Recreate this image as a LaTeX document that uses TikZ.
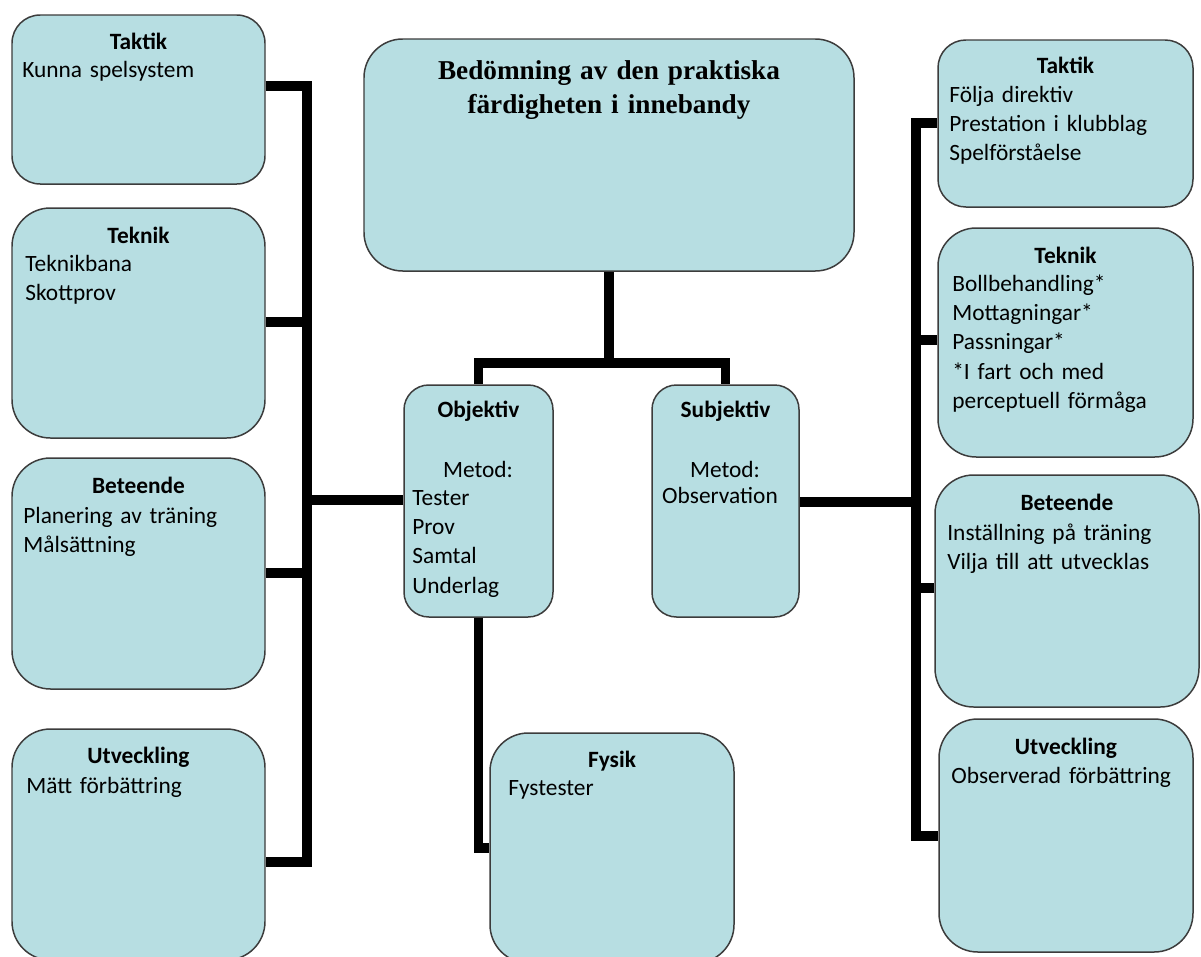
\documentclass[tikz,border=0pt]{standalone}
\usepackage{fontspec}
\setmainfont{Carlito}[WordSpace=0.85]
\newfontfamily\headfont{Liberation Serif}
\usetikzlibrary{calc}
\definecolor{boxfill}{RGB}{183,222,226}
\definecolor{boxline}{RGB}{60,60,60}

\tikzset{
  panel/.style={draw=boxline, line width=0.85pt, fill=boxfill, inner sep=0pt},
  conn/.style={line width=5.2pt, line join=miter, line cap=butt},
  head/.style={inner sep=0pt, anchor=base, font=\fontsize{13.3}{16.7}\selectfont\bfseries},
  body/.style={inner sep=0pt, anchor=base west, align=left, text width=5.2cm,
               font=\fontsize{13.3}{16.7}\selectfont},
  mid/.style={inner sep=0pt, anchor=base, font=\fontsize{13.3}{16.7}\selectfont},
}

% rounded panel: name, left, top, width, height (in px units)
\newcommand\panelbox[5]{%
  \pgfmathsetmacro\rr{0.1667*min(#4,#5)*0.02}%
  \node[panel, minimum width=#4*0.02cm, minimum height=#5*0.02cm,
        rounded corners=\rr cm] (#1) at ({#2+#4/2},{#3+#5/2}) {};}

\begin{document}
\begin{tikzpicture}[x=0.02cm, y=-0.02cm]
\useasboundingbox (0,0) rectangle (1201,957);
\clip (0,0) rectangle (1201,957);
\fill[white] (0,0) rectangle (1201,957);

% left column
\panelbox{lta}{12}{15}{253}{169}
\panelbox{lte}{12}{208}{253}{230}
\panelbox{lbe}{12}{458}{253}{231}
\panelbox{lut}{12}{729}{253}{231}
% centre
\panelbox{top}{364}{39}{490}{232}
\panelbox{obj}{404}{385}{149}{232}
\panelbox{sub}{652}{385}{147}{232}
\panelbox{fys}{490}{733}{244}{230}
% right column
\panelbox{rta}{938}{40}{255}{167}
\panelbox{rte}{938}{228}{255}{229}
\panelbox{rbe}{935}{475}{264}{232}
\panelbox{rut}{939}{719}{254}{233}

% bus junctions
\coordinate (lbA) at (307,86);
\coordinate (lbB) at (307,322);
\coordinate (lbC) at (307,573);
\coordinate (lbD) at (307,862);
\coordinate (lbM) at (307,500);
\coordinate (rbA) at (916,123);
\coordinate (rbB) at (916,340);
\coordinate (rbC) at (916,588);
\coordinate (rbD) at (916,836);
\coordinate (rbM) at (916,502);
\coordinate (tsplit) at (609,363);
\coordinate (fk) at (0,848);

% connectors
\draw[conn] (lta.east |- lbA) -- (lbA) -- (lbD) -- (lut.east |- lbD);
\draw[conn] (lte.east |- lbB) -- (lbB);
\draw[conn] (lbe.east |- lbC) -- (lbC);
\draw[conn] (obj.west |- lbM) -- (lbM);
\draw[conn] (rta.west |- rbA) -- (rbA) -- (rbD) -- (rut.west |- rbD);
\draw[conn] (rte.west |- rbB) -- (rbB);
\draw[conn] (rbe.west |- rbC) -- (rbC);
\draw[conn] (sub.east |- rbM) -- (rbM);
\draw[conn] (top.south) -- (tsplit);
\draw[conn] (obj.north) |- (tsplit) -| (sub.north);
\draw[conn] (obj.south) |- (fys.west |- fk);

% texts
\node[inner sep=0pt, anchor=base, text width=9cm, align=center,
      font=\fontsize{15.5}{19.4}\selectfont\headfont\bfseries] (topH) at (609,79)
      {Bedömning av den praktiska\\ färdigheten i innebandy};

\node[head] (ltaH) at (138.5,49) {Taktik};
\node[body] (ltaB) at (22,77) {Kunna spelsystem};
\node[head] (lteH) at (138.5,243) {Teknik};
\node[body] (lteB) at (25,271) {Teknikbana\\Skottprov};
\node[head] (lbeH) at (138.5,493) {Beteende};
\node[body] (lbeB) at (23,523) {Planering av träning\\Målsättning};
\node[head] (lutH) at (138.5,763) {Utveckling};
\node[body] (lutB) at (26,793) {Mätt förbättring};

\node[head] (objH) at (478.5,417) {Objektiv};
\node[mid] (objM) at (478,477) {Metod:};
\node[body] (objB) at (412,505) {Tester\\Prov\\Samtal\\Underlag};
\node[head] (subH) at (725.5,417) {Subjektiv};
\node[mid] (subM) at (725,477) {Metod:};
\node[mid] (subB) at (720,503) {Observation};
\node[head] (fysH) at (612,767) {Fysik};
\node[body] (fysB) at (508,795) {Fystester};

\node[head] (rtaH) at (1065.5,73) {Taktik};
\node[body] (rtaB) at (949,102) {Följa direktiv\\Prestation i klubblag\\Spelförståelse};
\node[head] (rteH) at (1065.5,263) {Teknik};
\node[body] (rteB) at (952,291) {Bollbehandling*\\Mottagningar*\\Passningar*\\\relax*I fart och med\\perceptuell förmåga};
\node[head] (rbeH) at (1067,510) {Beteende};
\node[body] (rbeB) at (947,540) {Inställning på träning\\Vilja till att utvecklas};
\node[head] (rutH) at (1066,754) {Utveckling};
\node[body] (rutB) at (951,783) {Observerad förbättring};
\end{tikzpicture}
\end{document}
